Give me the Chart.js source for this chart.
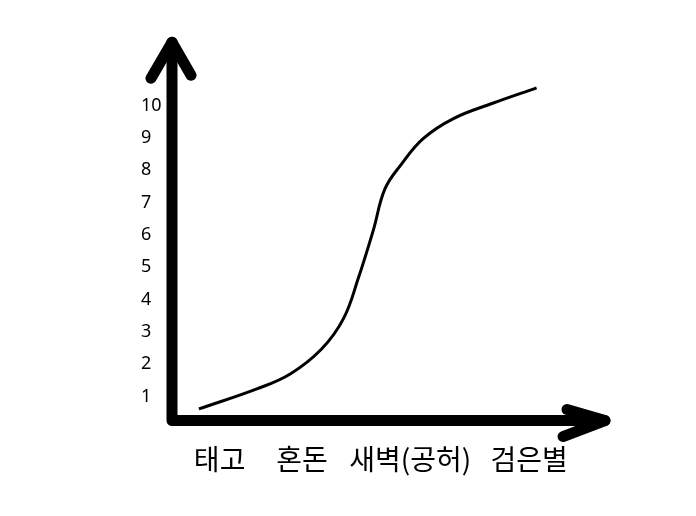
<!DOCTYPE html>
<html>
<head>
<meta charset="utf-8">
<script src="https://cdn.jsdelivr.net/npm/chart.js@4"></script>
<style>
  html, body { margin: 0; padding: 0; background: #fff; }
  #wrap { width: 696px; height: 516px; }
</style>
</head>
<body>
<div id="wrap"><canvas id="chart"></canvas></div>
<script>
// 단계 이름과 위치
const stageLabels = ['태고', '혼돈', '새벽(공허)', '검은별'];
const stagePos = [11, 30, 55, 82.5];
// y축 눈금
const yTicks = [1, 2, 3, 4, 5, 6, 7, 8, 9, 10];
// 곡선 점들
const curveX = [6.2, 19.6, 27.3, 34.6, 39.6, 43.0, 46.5, 49.2, 53.0, 58.0, 65.0, 74.2, 84.2];
const curveY = [0.62, 1.24, 1.70, 2.48, 3.41, 4.65, 6.15, 7.43, 8.19, 8.98, 9.60, 10.08, 10.55];

// 화살표 축 그리기
const arrowAxes = {
    id: 'arrowAxes',
    afterDatasetsDraw(chart) {
        const ctx = chart.ctx;
        const xs = chart.scales.x, ys = chart.scales.y;
        const ox = xs.getPixelForValue(0);
        const oy = ys.getPixelForValue(0.26);
        const xEnd = xs.getPixelForValue(100);
        const yEnd = ys.getPixelForValue(11.96);
        ctx.save();
        ctx.strokeStyle = '#000';
        ctx.lineWidth = 11;
        ctx.lineCap = 'round';
        ctx.lineJoin = 'round';
        ctx.beginPath();
        ctx.moveTo(ox, yEnd);
        ctx.lineTo(ox, oy);
        ctx.lineTo(xEnd, oy);
        ctx.stroke();
        // y 화살촉
        ctx.beginPath();
        ctx.moveTo(ox - 21, yEnd + 36);
        ctx.lineTo(ox, yEnd);
        ctx.lineTo(ox + 19, yEnd + 33);
        ctx.stroke();
        // x 화살촉
        ctx.beginPath();
        ctx.moveTo(xEnd - 38, oy - 11);
        ctx.lineTo(xEnd, oy);
        ctx.lineTo(xEnd - 42, oy + 16);
        ctx.stroke();
        ctx.restore();
    }
};

const chart = new Chart(document.getElementById('chart'), {
    type: 'line',
    data: {
        datasets: [{
            data: curveX.map((x, i) => ({ x: x, y: curveY[i] })),
            borderColor: '#000',
            borderWidth: 3,
            pointRadius: 0,
            tension: 0.4,
            fill: false
        }]
    },
    options: {
        responsive: true,
        maintainAspectRatio: false,
        animation: false,
        layout: {
            padding: { left: 141, right: 91, top: 39, bottom: 20 }
        },
        plugins: {
            legend: { display: false },
            tooltip: { enabled: false }
        },
        scales: {
            x: {
                type: 'linear',
                min: 0,
                max: 100,
                grid: { display: false, drawTicks: false },
                border: { display: false },
                afterFit: function(scale) { scale.height = 69; },
                afterBuildTicks: function(scale) {
                    scale.ticks = stagePos.map(v => ({ value: v }));
                },
                ticks: {
                    autoSkip: false,
                    maxRotation: 0,
                    padding: 16,
                    color: '#000',
                    font: { family: '"Noto Sans CJK KR"', size: 28 },
                    callback: function(value) {
                        const i = stagePos.indexOf(value);
                        return i >= 0 ? stageLabels[i] : '';
                    }
                }
            },
            y: {
                type: 'linear',
                min: 0.06,
                max: 12.06,
                grid: { display: false, drawTicks: false },
                border: { display: false },
                afterFit: function(scale) { scale.width = 31; },
                afterBuildTicks: function(scale) {
                    scale.ticks = yTicks.map(v => ({ value: v }));
                },
                ticks: {
                    crossAlign: 'far',
                    color: '#000',
                    font: { family: '"Noto Sans"', size: 18 }
                }
            }
        }
    },
    plugins: [arrowAxes]
});
</script>
</body>
</html>
